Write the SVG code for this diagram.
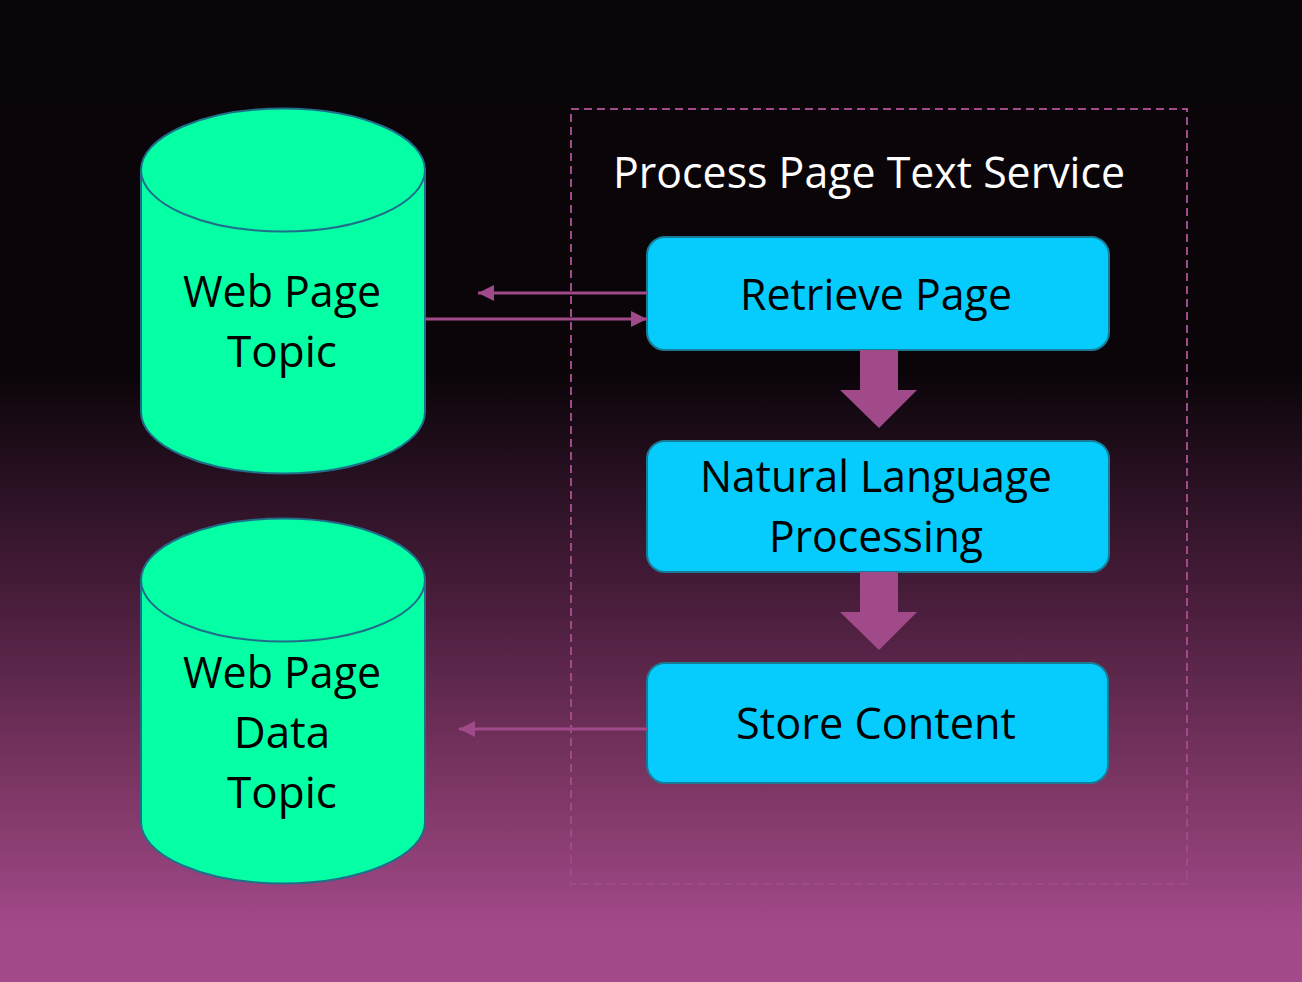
<svg xmlns="http://www.w3.org/2000/svg" width="1302" height="982" viewBox="0 0 1302 982">
<defs>
<linearGradient id="bg" x1="0" y1="0" x2="0" y2="1">
<stop offset="0" stop-color="#0a0509"/>
<stop offset="0.38" stop-color="#0b050a"/>
<stop offset="0.62" stop-color="#4b1e3d"/>
<stop offset="0.83" stop-color="#843a6b"/>
<stop offset="0.95" stop-color="#a24a8a"/>
<stop offset="1" stop-color="#a24a8a"/>
</linearGradient>
<marker id="ah" viewBox="0 0 16 16" refX="16" refY="8" markerWidth="16" markerHeight="16" markerUnits="userSpaceOnUse" orient="auto">
<path d="M0,0 L16,8 L0,16 Z" fill="#a04a8a"/>
</marker>
<style>
.cyl{fill:#05ffa5;stroke:#1f6f8a;stroke-width:2}
.box{fill:#05ccfd;stroke:#1a7b96;stroke-width:2}
.lbl{font-family:"Open Sans","Liberation Sans",sans-serif;font-size:44px;fill:#000;text-anchor:middle}
.title{font-family:"Open Sans","Liberation Sans",sans-serif;font-size:44px;fill:#fff}
.conn{stroke:#a04a8a;stroke-width:3;fill:none}
.blk{fill:#a04a8a}
</style>
</defs>
<rect width="1302" height="982" fill="url(#bg)"/>
<g id="service-container">
<rect x="571" y="109" width="616" height="775" fill="none" stroke="#a04a8a" stroke-width="2" stroke-dasharray="8,5"/>
<text class="title" x="613" y="188" textLength="512" lengthAdjust="spacingAndGlyphs">Process Page Text Service</text>
</g>
<g id="web-page-topic">
<path class="cyl" d="M141,170 L141,412 A142,61.5 0 0 0 425,412 L425,170"/>
<ellipse class="cyl" cx="283" cy="170" rx="142" ry="61.5"/>
<text class="lbl" x="282" y="307" textLength="198" lengthAdjust="spacingAndGlyphs">Web Page</text>
<text class="lbl" x="282" y="367">Topic</text>
</g>
<g id="web-page-data-topic">
<path class="cyl" d="M141,580 L141,822 A142,61.5 0 0 0 425,822 L425,580"/>
<ellipse class="cyl" cx="283" cy="580" rx="142" ry="61.5"/>
<text class="lbl" x="282" y="688" textLength="198" lengthAdjust="spacingAndGlyphs">Web Page</text>
<text class="lbl" x="282" y="748">Data</text>
<text class="lbl" x="282" y="808">Topic</text>
</g>
<g id="retrieve-page">
<rect class="box" x="647" y="237" width="462" height="113" rx="18"/>
<text class="lbl" x="876" y="310" textLength="272" lengthAdjust="spacingAndGlyphs">Retrieve Page</text>
</g>
<g id="nlp">
<rect class="box" x="647" y="441" width="462" height="131" rx="18"/>
<text class="lbl" x="876" y="492" textLength="352" lengthAdjust="spacingAndGlyphs">Natural Language</text>
<text class="lbl" x="876" y="552" textLength="214" lengthAdjust="spacingAndGlyphs">Processing</text>
</g>
<g id="store-content">
<rect class="box" x="647" y="663" width="461" height="120" rx="18"/>
<text class="lbl" x="876" y="739" textLength="280" lengthAdjust="spacingAndGlyphs">Store Content</text>
</g>
<g id="connectors">
<line class="conn" x1="647" y1="293" x2="478" y2="293" marker-end="url(#ah)"/>
<line class="conn" x1="425" y1="319" x2="647" y2="319" marker-end="url(#ah)"/>
<line class="conn" x1="647" y1="729" x2="459" y2="729" marker-end="url(#ah)"/>
<polygon class="blk" points="860,350 898,350 898,390 917,390 879,428 840,390 860,390"/>
<polygon class="blk" points="860,572 898,572 898,612 917,612 879,650 840,612 860,612"/>
</g>
</svg>
